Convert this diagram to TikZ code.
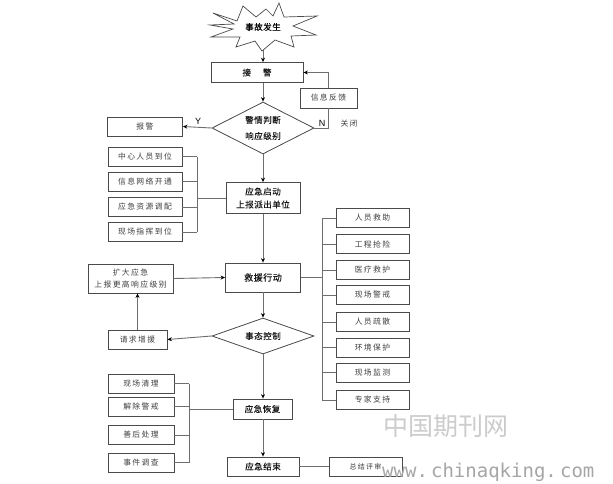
\documentclass[tikz,border=0pt]{standalone}
\usepackage{fontspec}
\newfontfamily\cjk[LetterSpace=6,FakeBold=0.25]{Noto Sans CJK SC}
\newfontfamily\cjkl[LetterSpace=18]{Noto Sans CJK SC}
\newfontfamily\wcjk{Noto Sans CJK SC}
\newfontfamily\wmono{DejaVu Sans Mono}
\newfontfamily\lat{Liberation Sans}
\usetikzlibrary{shapes.geometric,arrows.meta,calc}
\definecolor{bd}{HTML}{4A4A4A}
\definecolor{ln}{HTML}{6E6E6E}
\begin{document}
\begin{tikzpicture}[x=1pt,y=-1pt,
  box/.style={draw=bd,line width=0.8pt,inner sep=0pt,align=center,text=black!90,font=\cjk\fontsize{8.5}{13}\selectfont},
  sub/.style={draw=bd,line width=0.8pt,inner sep=0pt,align=center,text=black!75,font=\cjkl\fontsize{7.8}{11}\selectfont},
  dia/.style={draw=bd,line width=0.8pt,diamond,inner sep=0pt,shape aspect=2,align=center,text=black!90,font=\cjk\fontsize{8.5}{16}\selectfont},
  conn/.style={draw=ln,line width=0.9pt},
  arr/.style={draw=ln,line width=0.9pt,-{Stealth[length=4.5pt,width=4pt,color=black]}},
  lab/.style={inner sep=0pt,font=\lat\fontsize{9}{10}\selectfont}
]
\useasboundingbox (0,0) rectangle (613,483);
\fill[white] (0,0) rectangle (613,483);

% star
\draw[draw=bd,line width=0.7pt,fill=white]
  (213,13) -- (237,21) -- (243,6) -- (256,17) -- (266,9) -- (273,16) -- (279,3)
  -- (284,17) -- (317,16) -- (293,26) -- (316,35) -- (291,36) -- (294,47)
  -- (275,40) -- (262,51) -- (255,41) -- (236,47) -- (240,37) -- (211,37)
  -- (233,29) -- (210,25) -- (234,24) -- cycle;
\node[inner sep=0pt,font=\cjk\fontsize{8.5}{11}\selectfont] (star) at (263,27) {事故发生};
\coordinate (stb) at (263,50);

% main column
\node[box,minimum width=92pt,minimum height=20pt] (jj) at (257,72.5) {接\hspace{12pt}警};
\node[sub,minimum width=57pt,minimum height=20pt] (fb) at (328.5,98) {信息反馈};
\node[dia,minimum width=102pt,minimum height=52pt] (d1) at (263,128) {警情判断\\响应级别};
\node[sub,minimum width=75pt,minimum height=19pt] (bj) at (145,126.5) {报警};
\node[box,minimum width=74pt,minimum height=31pt] (qd) at (263,198) {应急启动\\上报派出单位};
\node[box,minimum width=75pt,minimum height=29pt,font=\cjk\fontsize{9}{11}\selectfont] (jy) at (263,277.5) {救援行动};
\node[dia,minimum width=102pt,minimum height=36pt] (d2) at (263,336) {事态控制};
\node[box,minimum width=59pt,minimum height=20pt] (hf) at (262.5,409) {应急恢复};
\node[box,minimum width=72pt,minimum height=19pt] (js) at (263,466.5) {应急结束};
\node[sub,minimum width=73pt,minimum height=19pt,font=\cjkl\fontsize{7}{9}\selectfont] (zj) at (365.5,466.5) {总结评审};

% left top list
\node[sub,minimum width=74pt,minimum height=19pt] (l1) at (145,156.5) {中心人员到位};
\node[sub,minimum width=74pt,minimum height=19pt] (l2) at (145,181.5) {信息网络开通};
\node[sub,minimum width=74pt,minimum height=19pt] (l3) at (145,207) {应急资源调配};
\node[sub,minimum width=74pt,minimum height=19pt] (l4) at (145,232) {现场指挥到位};
\coordinate (b1) at (197,0);

% right list
\node[sub,minimum width=73pt,minimum height=19pt] (r1) at (372.5,218) {人员救助};
\node[sub,minimum width=73pt,minimum height=19pt] (r2) at (372.5,244) {工程抢险};
\node[sub,minimum width=73pt,minimum height=19pt] (r3) at (372.5,270) {医疗救护};
\node[sub,minimum width=73pt,minimum height=19pt] (r4) at (372.5,295) {现场警戒};
\node[sub,minimum width=73pt,minimum height=19pt] (r5) at (372.5,322) {人员疏散};
\node[sub,minimum width=73pt,minimum height=19pt] (r6) at (372.5,347.5) {环境保护};
\node[sub,minimum width=73pt,minimum height=19pt] (r7) at (372.5,372.5) {现场监测};
\node[sub,minimum width=73pt,minimum height=19pt] (r8) at (372.5,400) {专家支持};
\coordinate (b2) at (322,0);

% left middle
\node[sub,minimum width=85pt,minimum height=29pt,font=\cjkl\fontsize{7.8}{12}\selectfont] (kd) at (130.5,278.5) {扩大应急\\上报更高响应级别};
\node[sub,minimum width=59pt,minimum height=19pt] (qq) at (137.5,339.5) {请求增援};

% bottom left list
\node[sub,minimum width=66pt,minimum height=19pt] (m1) at (141,383.5) {现场清理};
\node[sub,minimum width=66pt,minimum height=19pt] (m2) at (141,406.5) {解除警戒};
\node[sub,minimum width=66pt,minimum height=19pt] (m3) at (141,435) {善后处理};
\node[sub,minimum width=66pt,minimum height=19pt] (m4) at (141,462.5) {事件调查};
\coordinate (b3) at (189,0);

% labels
\node[lab] (ly) at (198,121) {Y};
\node[lab] (ln) at (322,123.5) {N};
\node[inner sep=0pt,text=black!75,font=\cjkl\fontsize{7.8}{10}\selectfont] (gb) at (349,124) {关闭};

% connectors main column
\draw[arr] (stb) -- (stb |- jj.north);
\draw[arr] (jj.south -| stb) -- (d1.north);
\draw[arr] (d1.south) -- (qd.north);
\draw[arr] (qd.south) -- (jy.north);
\draw[arr] (jy.south) -- (d2.north);
\draw[arr] (d2.south) -- (d2.south |- hf.north);
\draw[arr] (hf.south -| d2.south) -- (d2.south |- js.north);
\draw[conn] (js.east) -- (zj.west);

% Y / N
\draw[arr] (d1.west) -- (bj.east);
\draw[conn] (d1.east) -- (d1.east -| fb) -- (fb.south);
\draw[arr] (fb.north) |- (jj.east);

% left top bracket
\foreach \n in {l1,l2,l3,l4} \draw[conn] (\n.east) -- (\n.east -| b1);
\draw[conn] (l1.east -| b1) -- (l4.east -| b1);
\draw[conn] (qd.west -| b1) -- (qd.west);

% right bracket
\foreach \n in {r1,r2,r3,r4,r5,r6,r7,r8} \draw[conn] (\n.west -| b2) -- (\n.west);
\draw[conn] (r1.west -| b2) -- (r8.west -| b2);
\draw[conn] (jy.east) -- (jy.east -| b2);

% escalation loop
\draw[arr] (d2.west) -- (qq.east);
\draw[arr] (qq.north) -- (qq.north |- kd.south);
\draw[arr] (kd.east) -- (jy.west);

% bottom left bracket
\foreach \n in {m1,m2,m3,m4} \draw[conn] (\n.east) -- (\n.east -| b3);
\draw[conn] (m1.east -| b3) -- (m4.east -| b3);
\draw[conn] (hf.west -| b3) -- (hf.west);

% watermark
\node[anchor=west,inner sep=0pt,text=black!20,font=\wcjk\fontsize{25}{28}\selectfont] (wm1) at (383,426) {中国期刊网};
\node[anchor=west,inner sep=0pt,text=black!35,font=\wmono\fontsize{19}{22}\selectfont] (wm2) at (382,472) {www.\,chinaqking.\,com};
\end{tikzpicture}
\end{document}
